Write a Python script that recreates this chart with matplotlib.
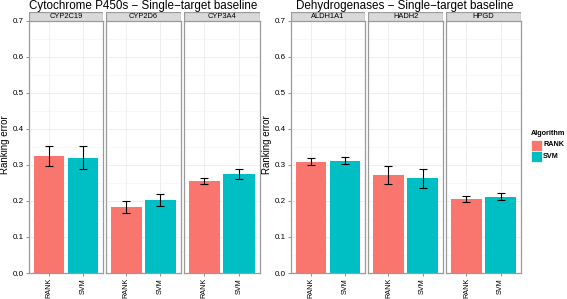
import numpy as np
import matplotlib
matplotlib.use('Agg')
import matplotlib.pyplot as plt
from matplotlib.patches import Rectangle

plt.rcParams['font.family'] = ['Liberation Sans', 'DejaVu Sans']

# 데이터
algorithms = ['RANK', 'SVM']
colors = ['#F8766D', '#00BFC4']

cyp_targets = ['CYP2C19', 'CYP2D6', 'CYP3A4']
cyp_mean = [[0.325, 0.320], [0.183, 0.202], [0.255, 0.274]]
cyp_err = [[0.027, 0.033], [0.016, 0.016], [0.008, 0.013]]

dh_targets = ['ALDH1A1', 'HADH2', 'HPGD']
dh_mean = [[0.309, 0.311], [0.272, 0.263], [0.205, 0.211]]
dh_err = [[0.009, 0.010], [0.025, 0.026], [0.009, 0.010]]

W, H = 567, 299
fig = plt.figure(figsize=(W / 100, H / 100), dpi=100)


def px_axes(x0, x1, y0, y1):
    # 픽셀 좌표(위쪽 원점) -> figure 좌표
    return fig.add_axes([x0 / W, 1 - y1 / H, (x1 - x0) / W, (y1 - y0) / H])


def draw_group(panels_x, targets, means, errs, title, title_x, ylabel_x):
    panel_top, panel_bottom = 20.5, 273
    strip_top = 11.5
    for i, (x0, x1) in enumerate(panels_x):
        ax = px_axes(x0, x1, panel_top, panel_bottom)
        ax.set_facecolor('white')
        xs = np.arange(1, len(algorithms) + 1)
        ax.bar(xs, means[i], width=0.9, color=colors, zorder=2)
        ax.errorbar(xs, means[i], yerr=errs[i], fmt='none', ecolor='black',
                    elinewidth=0.8, capsize=2.6, capthick=0.8, zorder=3)
        ax.set_xlim(0.4, 2.6)
        ax.set_ylim(0, 0.7)
        ax.set_yticks(np.arange(0, 0.71, 0.1))
        ax.set_yticklabels(['%.1f' % v for v in np.arange(0, 0.71, 0.1)])
        ax.set_yticks(np.arange(0.05, 0.7, 0.1), minor=True)
        ax.grid(True, which='major', color='#EBEBEB', lw=0.6, zorder=0)
        ax.grid(True, which='minor', axis='y', color='#F5F5F5', lw=0.5, zorder=0)
        ax.set_xticks(xs)
        ax.set_xticklabels(algorithms, rotation=90)
        ax.tick_params(axis='both', which='major', length=2.5, width=0.6,
                       color='#7F7F7F', labelsize=5.8, labelcolor='black', pad=1.5)
        ax.tick_params(axis='x', which='major', labelsize=5.2, pad=1)
        ax.tick_params(axis='both', which='minor', length=0)
        for s in ax.spines.values():
            s.set_color('#9A9A9A')
            s.set_linewidth(0.9)
        if i > 0:
            ax.set_yticklabels([])
            ax.tick_params(axis='y', length=0)

        sax = px_axes(x0, x1, strip_top, panel_top)
        sax.add_patch(Rectangle((0, 0), 1, 1, transform=sax.transAxes,
                                facecolor='#D9D9D9', edgecolor='#9A9A9A', lw=0.9))
        sax.set_xticks([])
        sax.set_yticks([])
        for s in sax.spines.values():
            s.set_visible(False)
        sax.text(0.5, 0.5, targets[i], ha='center', va='center', fontsize=5.4,
                 transform=sax.transAxes)

    fig.text(title_x / W, 1 - 5.5 / H, title, ha='center', va='center', fontsize=8.4)
    fig.text(ylabel_x / W, 1 - 145 / H, 'Ranking error', rotation=90,
             ha='center', va='center', fontsize=7)


draw_group([(29, 103), (105.5, 181), (183.5, 260)], cyp_targets, cyp_mean, cyp_err,
           'Cytochrome P450s \u2212 Single\u2212target baseline', 143, 5)
draw_group([(291, 365), (368, 443), (446, 521)], dh_targets, dh_mean, dh_err,
           'Dehydrogenases \u2212 Single\u2212target baseline', 405, 267)

# 범례
fig.text(530.5 / W, 1 - 134 / H, 'Algorithm', fontsize=5.2, fontweight='bold',
         ha='left', va='center')
for k, (name, c) in enumerate(zip(algorithms, colors)):
    y0 = 139.5 + k * 11
    fig.patches.append(Rectangle((531 / W, 1 - (y0 + 11) / H), 10.5 / W, 11 / H,
                                 transform=fig.transFigure, facecolor=c,
                                 edgecolor='white', lw=0.5))
    fig.text(543 / W, 1 - (y0 + 5.5) / H, name, fontsize=5.2, fontweight='bold',
             ha='left', va='center')

fig.savefig('out.png', dpi=100)
